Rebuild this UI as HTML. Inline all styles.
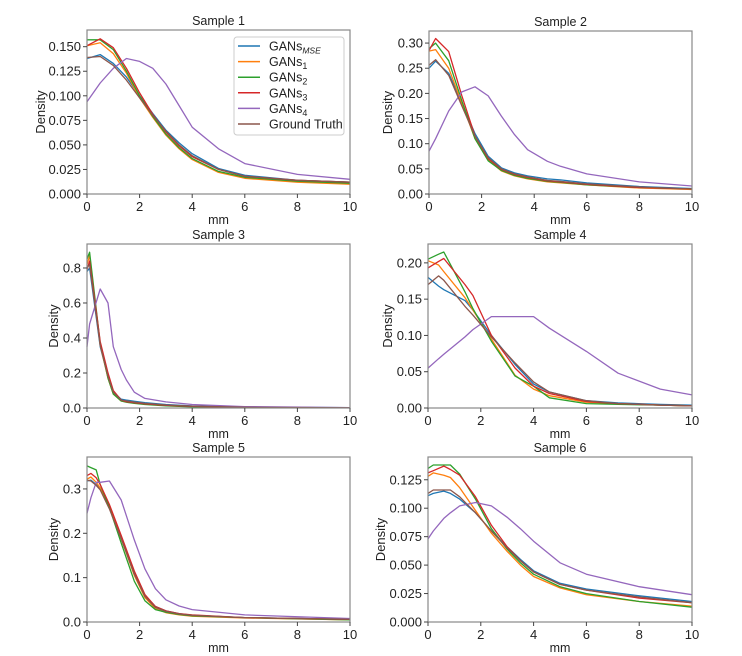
<!DOCTYPE html>
<html><head><meta charset="utf-8">
<style>
html,body{margin:0;padding:0;background:#fff;}
svg{display:block;font-family:"Liberation Sans","DejaVu Sans",sans-serif;}
</style></head>
<body>
<svg id="fig" width="742" height="656" viewBox="0 0 742 656" xmlns="http://www.w3.org/2000/svg"></svg>
<script>
const seriesNames = ["GANs_MSE","GANs1","GANs2","GANs3","GANs4","Ground Truth"];
const colors = ["#1f77b4","#ff7f0e","#2ca02c","#d62728","#9467bd","#8c564b"];

const s1x = [0,0.5,1,1.5,2,2.5,3,3.5,4,5,6,8,10];
const s1mse = [0.138,0.142,0.133,0.119,0.100,0.082,0.065,0.052,0.041,0.026,0.019,0.014,0.012];
const s1g1 = [0.151,0.154,0.143,0.123,0.098,0.078,0.060,0.046,0.035,0.022,0.016,0.012,0.010];
const s1g2 = [0.157,0.157,0.147,0.125,0.100,0.079,0.061,0.047,0.036,0.023,0.017,0.013,0.011];
const s1g3 = [0.151,0.158,0.149,0.128,0.103,0.081,0.063,0.049,0.038,0.025,0.018,0.014,0.012];
const s1g4 = [0.094,0.113,0.128,0.138,0.135,0.128,0.112,0.090,0.068,0.046,0.031,0.020,0.015];
const s1gt = [0.139,0.140,0.131,0.116,0.098,0.080,0.064,0.050,0.039,0.025,0.018,0.014,0.012];

const s2x = [0,0.25,0.75,1.25,1.75,2.25,2.75,3.25,3.75,4.5,5,6,8,10];
const s2mse = [0.250,0.264,0.240,0.180,0.120,0.075,0.052,0.042,0.036,0.030,0.028,0.022,0.015,0.011];
const s2g1 = [0.284,0.287,0.250,0.180,0.110,0.068,0.046,0.036,0.030,0.024,0.022,0.018,0.012,0.009];
const s2g2 = [0.289,0.300,0.265,0.185,0.110,0.066,0.047,0.037,0.031,0.025,0.023,0.018,0.013,0.010];
const s2g3 = [0.285,0.309,0.283,0.195,0.115,0.070,0.049,0.039,0.033,0.026,0.024,0.019,0.013,0.010];
const s2g4 = [0.085,0.110,0.165,0.203,0.213,0.195,0.155,0.118,0.088,0.065,0.055,0.040,0.024,0.016];
const s2gt = [0.256,0.267,0.236,0.175,0.115,0.072,0.050,0.040,0.034,0.027,0.025,0.020,0.014,0.010];

const s3x = [0,0.1,0.5,0.8,1,1.3,1.5,1.8,2.2,3,4,6,10];
const s3mse = [0.78,0.80,0.35,0.18,0.09,0.05,0.045,0.038,0.030,0.020,0.012,0.005,0.002];
const s3g1 = [0.82,0.87,0.36,0.17,0.08,0.04,0.035,0.028,0.022,0.014,0.008,0.004,0.001];
const s3g2 = [0.85,0.89,0.37,0.17,0.08,0.04,0.033,0.026,0.020,0.012,0.007,0.003,0.001];
const s3g3 = [0.79,0.84,0.38,0.20,0.10,0.045,0.036,0.030,0.024,0.015,0.009,0.004,0.001];
const s3g4 = [0.35,0.48,0.68,0.60,0.35,0.22,0.16,0.09,0.055,0.035,0.020,0.008,0.002];
const s3gt = [0.80,0.82,0.36,0.18,0.09,0.045,0.04,0.033,0.026,0.017,0.010,0.004,0.001];

const s4x = [0,0.4,0.6,1.4,1.7,2.4,3.3,4,4.6,6,7.2,8.8,10];
const s4mse = [0.180,0.168,0.163,0.148,0.135,0.100,0.060,0.033,0.022,0.010,0.007,0.005,0.004];
const s4g1 = [0.203,0.197,0.188,0.152,0.135,0.095,0.045,0.026,0.017,0.008,0.006,0.004,0.003];
const s4g2 = [0.205,0.212,0.215,0.160,0.137,0.092,0.044,0.030,0.014,0.006,0.005,0.004,0.003];
const s4g3 = [0.193,0.202,0.206,0.170,0.155,0.100,0.055,0.030,0.020,0.009,0.006,0.004,0.003];
const s4g4 = [0.055,0.068,0.074,0.098,0.108,0.126,0.126,0.126,0.110,0.078,0.048,0.026,0.018];
const s4gt = [0.170,0.182,0.176,0.140,0.128,0.098,0.062,0.036,0.022,0.010,0.006,0.004,0.003];

const s5x = [0,0.15,0.35,0.5,0.85,1.3,1.8,2.2,2.6,3,3.5,4,6,10];
const s5mse = [0.318,0.320,0.310,0.300,0.258,0.190,0.110,0.060,0.035,0.025,0.019,0.015,0.010,0.006];
const s5g1 = [0.322,0.327,0.315,0.302,0.260,0.188,0.105,0.055,0.030,0.021,0.016,0.013,0.009,0.005];
const s5g2 = [0.352,0.348,0.343,0.310,0.258,0.178,0.092,0.048,0.028,0.022,0.017,0.014,0.010,0.005];
const s5g3 = [0.330,0.335,0.325,0.310,0.265,0.195,0.115,0.062,0.035,0.025,0.019,0.016,0.010,0.006];
const s5g4 = [0.245,0.280,0.315,0.315,0.318,0.275,0.185,0.120,0.075,0.050,0.036,0.028,0.016,0.008];
const s5gt = [0.320,0.318,0.308,0.298,0.255,0.188,0.108,0.058,0.033,0.024,0.018,0.015,0.010,0.006];

const s6x = [0,0.2,0.6,0.85,1.2,1.8,2.4,3,3.5,4,5,6,8,10];
const s6mse = [0.111,0.113,0.115,0.113,0.108,0.096,0.080,0.066,0.055,0.045,0.034,0.029,0.023,0.018];
const s6g1 = [0.128,0.131,0.129,0.127,0.118,0.098,0.078,0.062,0.050,0.040,0.030,0.024,0.018,0.014];
const s6g2 = [0.135,0.138,0.138,0.138,0.130,0.108,0.082,0.064,0.052,0.042,0.031,0.025,0.018,0.013];
const s6g3 = [0.131,0.133,0.137,0.134,0.129,0.110,0.085,0.066,0.054,0.044,0.033,0.028,0.021,0.017];
const s6g4 = [0.073,0.080,0.091,0.096,0.102,0.105,0.102,0.092,0.082,0.071,0.052,0.042,0.031,0.024];
const s6gt = [0.113,0.116,0.116,0.116,0.110,0.096,0.080,0.065,0.054,0.044,0.033,0.028,0.022,0.017];

const xTicks = [0,2,4,6,8,10];
const s1yTicks = ["0.000","0.025","0.050","0.075","0.100","0.125","0.150"];
const s2yTicks = ["0.00","0.05","0.10","0.15","0.20","0.25","0.30"];
const s3yTicks = ["0.0","0.2","0.4","0.6","0.8"];
const s4yTicks = ["0.00","0.05","0.10","0.15","0.20"];
const s5yTicks = ["0.0","0.1","0.2","0.3"];
const s6yTicks = ["0.000","0.025","0.050","0.075","0.100","0.125"];

const panels = [
 {title:"Sample 1",L:87,R:350,T:30,B:194,ymax:0.167,xs:s1x,ys:[s1mse,s1g1,s1g2,s1g3,s1g4,s1gt],ticks:s1yTicks,ylx:45},
 {title:"Sample 2",L:429,R:692,T:31,B:194,ymax:0.324,xs:s2x,ys:[s2mse,s2g1,s2g2,s2g3,s2g4,s2gt],ticks:s2yTicks,ylx:392},
 {title:"Sample 3",L:87,R:350,T:244,B:408,ymax:0.937,xs:s3x,ys:[s3mse,s3g1,s3g2,s3g3,s3g4,s3gt],ticks:s3yTicks,ylx:58},
 {title:"Sample 4",L:428,R:692,T:244,B:408,ymax:0.226,xs:s4x,ys:[s4mse,s4g1,s4g2,s4g3,s4g4,s4gt],ticks:s4yTicks,ylx:392},
 {title:"Sample 5",L:87,R:350,T:457,B:622,ymax:0.372,xs:s5x,ys:[s5mse,s5g1,s5g2,s5g3,s5g4,s5gt],ticks:s5yTicks,ylx:58},
 {title:"Sample 6",L:428,R:692,T:457,B:622,ymax:0.145,xs:s6x,ys:[s6mse,s6g1,s6g2,s6g3,s6g4,s6gt],ticks:s6yTicks,ylx:385}
];
const NS="http://www.w3.org/2000/svg";
const svg=document.getElementById('fig');
function mk(tag,attrs,parent,text){const e=document.createElementNS(NS,tag);for(const k in attrs)e.setAttribute(k,attrs[k]);if(text!==undefined)e.textContent=text;(parent||svg).appendChild(e);return e;}

panels.forEach((p,pi)=>{
  const g=mk('g',{});
  
  
  const sx=v=>p.L+(v/10)*(p.R-p.L);
  const sy=v=>p.B-(v/p.ymax)*(p.B-p.T);
  p.ys.forEach((arr,si)=>{
    const pts=arr.map((v,i)=>sx(p.xs[i]).toFixed(1)+','+sy(v).toFixed(1)).join(' ');
    const pl=mk('polyline',{points:pts,fill:'none',stroke:colors[si],'stroke-width':1.3,'stroke-linejoin':'round'},g);
    
    
  });
  const fr=mk('rect',{x:p.L,y:p.T,width:p.R-p.L,height:p.B-p.T,fill:'none',stroke:'#888','stroke-width':1.2},g);
  
  
  xTicks.forEach(t=>{
    const x=sx(t);
    mk('line',{x1:x,x2:x,y1:p.B,y2:p.B+4,stroke:'#444'},g);
    const tl=mk('text',{x:x,y:p.B+17,'font-size':13,'text-anchor':'middle',fill:'#222'},g,String(t));
    
    
  });
  p.ticks.forEach(t=>{
    const y=sy(parseFloat(t));
    mk('line',{x1:p.L-4,x2:p.L,y1:y,y2:y,stroke:'#444'},g);
    const tl=mk('text',{x:p.L-6,y:y+4.5,'font-size':13,'text-anchor':'end',fill:'#222'},g,t);
    
    
  });
  const tt=mk('text',{x:(p.L+p.R)/2,y:p.T-5,'font-size':12.5,'text-anchor':'middle',fill:'#222'},g,p.title);
  
  
  const xl=mk('text',{x:(p.L+p.R)/2,y:p.B+30,'font-size':12.5,'text-anchor':'middle',fill:'#222'},g,'mm');
  
  
  const cy=(p.T+p.B)/2;
  const yl=mk('text',{x:p.ylx,y:cy,'font-size':13,'text-anchor':'middle',fill:'#222',transform:'rotate(-90 '+p.ylx+' '+cy+')'},g,'Density');
  
  
});

const lg=mk('g',{});


mk('rect',{x:234,y:37,width:110,height:98,rx:3,fill:'#fff','fill-opacity':0.85,stroke:'#ccc'},lg);
const labels=[["GANs","MSE"],["GANs","1"],["GANs","2"],["GANs","3"],["GANs","4"],["Ground Truth",""]];
labels.forEach((lb,i)=>{
  const y=46+i*15.6;
  const e=mk('g',{},lg);
  
  
  mk('line',{x1:238,x2:260,y1:y,y2:y,stroke:colors[i],'stroke-width':1.5},e);
  const t=mk('text',{x:269,y:y+4.5,'font-size':12.5,fill:'#222'},e);
  mk('tspan',{},t,lb[0]);
  if(lb[1]){
    mk('tspan',{dy:3,'font-size':lb[1]==='MSE'?8.5:9,'font-style':lb[1]==='MSE'?'italic':'normal'},t,lb[1]);
  }
});
</script>
</body></html>
